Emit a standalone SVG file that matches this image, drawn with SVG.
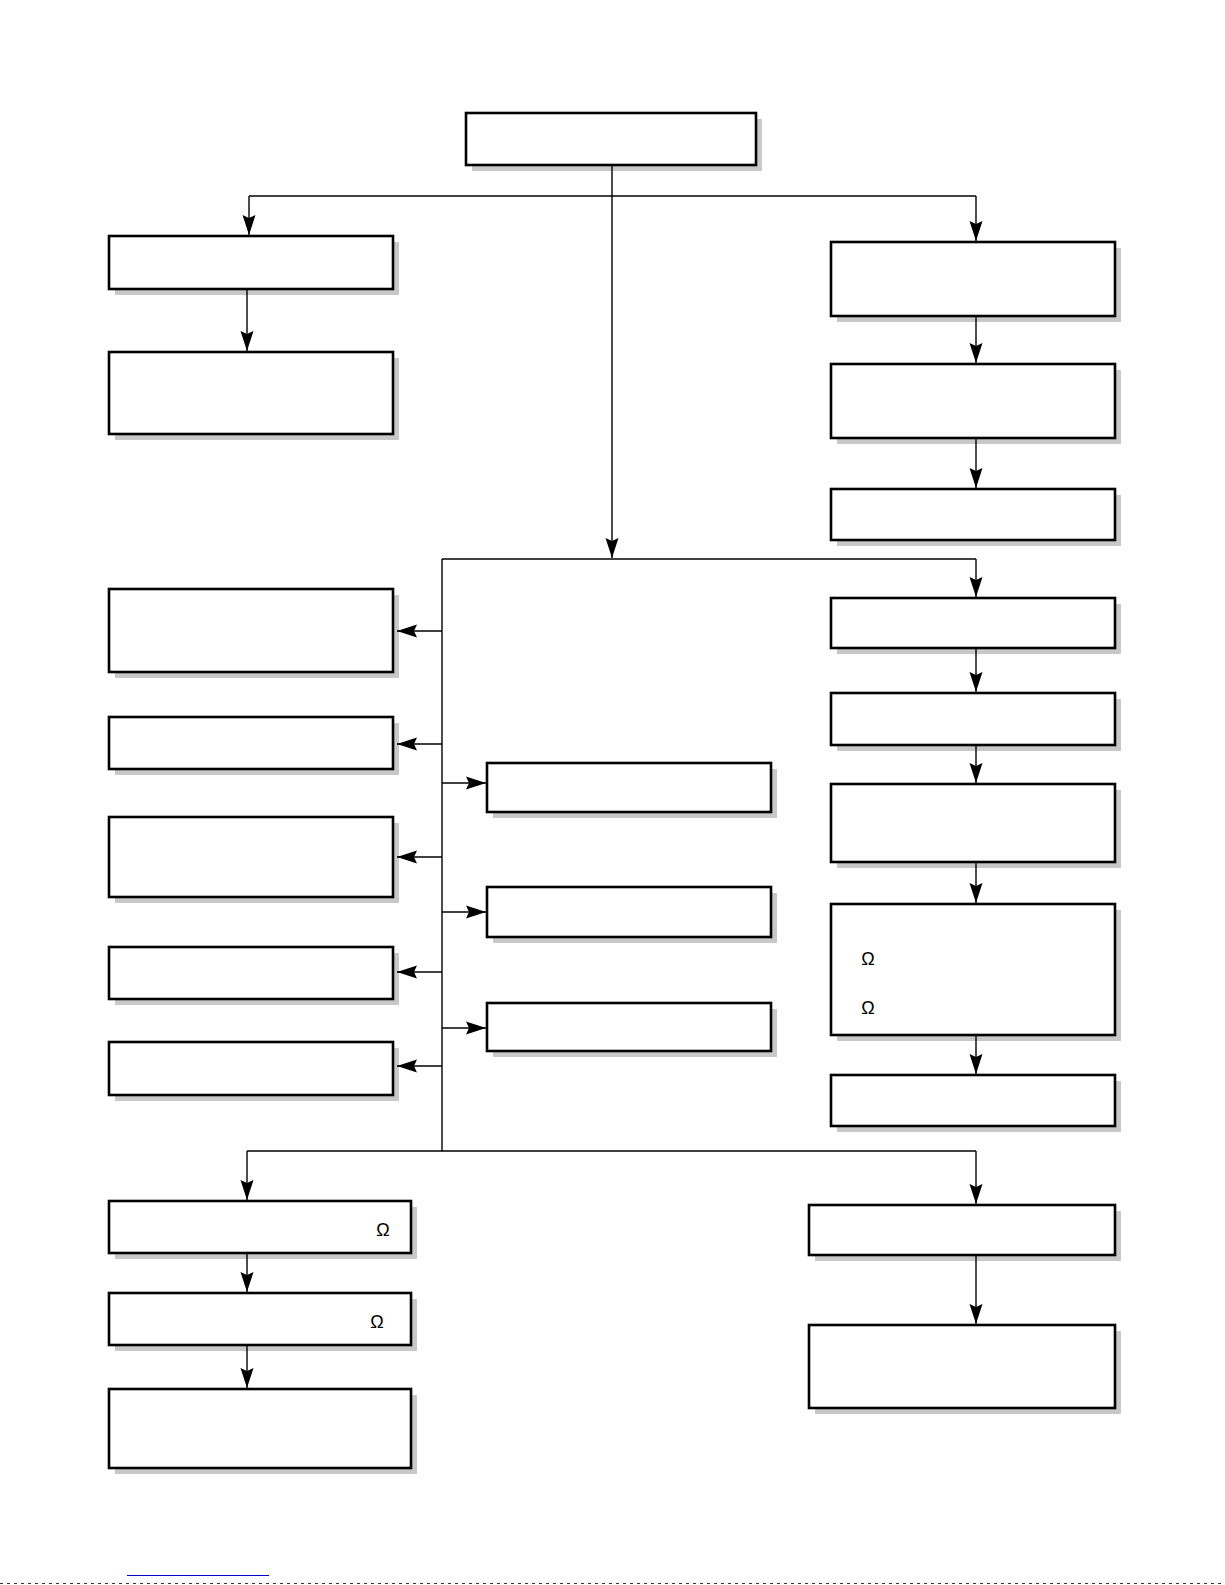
<svg xmlns="http://www.w3.org/2000/svg" width="1225" height="1585" viewBox="0 0 1225 1585">
<style>
.sh{fill:#c8c8c8;stroke:none}
.bx{fill:#fff;stroke:#000;stroke-width:2.6}
.ln{fill:none;stroke:#000;stroke-width:1.4}
.ar{marker-end:url(#ah)}
.om{font-family:"Liberation Sans",Arial,sans-serif;font-size:18px;fill:#000;text-anchor:middle;dominant-baseline:central}
</style>
<defs>
<marker id="ah" viewBox="0 0 20 14" refX="20" refY="7" markerWidth="20" markerHeight="14" markerUnits="userSpaceOnUse" orient="auto">
<path d="M0,0.5 L20,7 L0,13.5 L3,7 Z" fill="#000"/>
</marker>
</defs>
<rect width="1225" height="1585" fill="#fff"/>
<g id="top"><rect class="sh" x="472" y="119" width="290" height="52"/><rect class="bx" x="466" y="113" width="290" height="52"/></g>
<g id="L1"><rect class="sh" x="115" y="242" width="284" height="53"/><rect class="bx" x="109" y="236" width="284" height="53"/></g>
<g id="L2"><rect class="sh" x="115" y="358" width="284" height="82"/><rect class="bx" x="109" y="352" width="284" height="82"/></g>
<g id="R1"><rect class="sh" x="837" y="248" width="284" height="74"/><rect class="bx" x="831" y="242" width="284" height="74"/></g>
<g id="R2"><rect class="sh" x="837" y="370" width="284" height="74"/><rect class="bx" x="831" y="364" width="284" height="74"/></g>
<g id="R3"><rect class="sh" x="837" y="495" width="284" height="51"/><rect class="bx" x="831" y="489" width="284" height="51"/></g>
<g id="R4"><rect class="sh" x="837" y="604" width="284" height="50"/><rect class="bx" x="831" y="598" width="284" height="50"/></g>
<g id="R5"><rect class="sh" x="837" y="699" width="284" height="52"/><rect class="bx" x="831" y="693" width="284" height="52"/></g>
<g id="R6"><rect class="sh" x="837" y="790" width="284" height="78"/><rect class="bx" x="831" y="784" width="284" height="78"/></g>
<g id="R7"><rect class="sh" x="837" y="910" width="284" height="131"/><rect class="bx" x="831" y="904" width="284" height="131"/><text class="om" x="868" y="959">Ω</text><text class="om" x="868" y="1008">Ω</text></g>
<g id="R8"><rect class="sh" x="837" y="1081" width="284" height="51"/><rect class="bx" x="831" y="1075" width="284" height="51"/></g>
<g id="L3"><rect class="sh" x="115" y="595" width="284" height="83"/><rect class="bx" x="109" y="589" width="284" height="83"/></g>
<g id="L4"><rect class="sh" x="115" y="723" width="284" height="52"/><rect class="bx" x="109" y="717" width="284" height="52"/></g>
<g id="L5"><rect class="sh" x="115" y="823" width="284" height="80"/><rect class="bx" x="109" y="817" width="284" height="80"/></g>
<g id="L6"><rect class="sh" x="115" y="953" width="284" height="52"/><rect class="bx" x="109" y="947" width="284" height="52"/></g>
<g id="L7"><rect class="sh" x="115" y="1048" width="284" height="53"/><rect class="bx" x="109" y="1042" width="284" height="53"/></g>
<g id="M1"><rect class="sh" x="493" y="769" width="284" height="49"/><rect class="bx" x="487" y="763" width="284" height="49"/></g>
<g id="M2"><rect class="sh" x="493" y="893" width="284" height="50"/><rect class="bx" x="487" y="887" width="284" height="50"/></g>
<g id="M3"><rect class="sh" x="493" y="1009" width="284" height="48"/><rect class="bx" x="487" y="1003" width="284" height="48"/></g>
<g id="B1"><rect class="sh" x="115" y="1207" width="302" height="52"/><rect class="bx" x="109" y="1201" width="302" height="52"/><text class="om" x="383" y="1230">Ω</text></g>
<g id="B2"><rect class="sh" x="115" y="1299" width="302" height="52"/><rect class="bx" x="109" y="1293" width="302" height="52"/><text class="om" x="377" y="1322">Ω</text></g>
<g id="B3"><rect class="sh" x="115" y="1395" width="302" height="79"/><rect class="bx" x="109" y="1389" width="302" height="79"/></g>
<g id="BR1"><rect class="sh" x="815" y="1211" width="306" height="50"/><rect class="bx" x="809" y="1205" width="306" height="50"/></g>
<g id="BR2"><rect class="sh" x="815" y="1331" width="306" height="83"/><rect class="bx" x="809" y="1325" width="306" height="83"/></g>
<g id="connectors">
<path class="ln ar" d="M612,166 V558"/>
<path class="ln" d="M249,196 H976"/>
<path class="ln ar" d="M249,196 V235"/>
<path class="ln ar" d="M976,196 V241"/>
<path class="ln ar" d="M247,290 V351"/>
<path class="ln ar" d="M976,317 V363"/>
<path class="ln ar" d="M976,439 V488"/>
<path class="ln" d="M442,559 H976"/>
<path class="ln ar" d="M976,559 V597"/>
<path class="ln ar" d="M976,649 V692"/>
<path class="ln ar" d="M976,746 V783"/>
<path class="ln ar" d="M976,863 V903"/>
<path class="ln ar" d="M976,1036 V1074"/>
<path class="ln" d="M442,559 V1151"/>
<path class="ln ar" d="M442,631 H397"/>
<path class="ln ar" d="M442,744 H397"/>
<path class="ln ar" d="M442,857 H397"/>
<path class="ln ar" d="M442,972 H397"/>
<path class="ln ar" d="M442,1066 H397"/>
<path class="ln ar" d="M442,783 H486"/>
<path class="ln ar" d="M442,912 H486"/>
<path class="ln ar" d="M442,1028 H486"/>
<path class="ln" d="M247,1151 H976"/>
<path class="ln ar" d="M247,1151 V1200"/>
<path class="ln ar" d="M247,1254 V1292"/>
<path class="ln ar" d="M247,1346 V1388"/>
<path class="ln ar" d="M976,1151 V1204"/>
<path class="ln ar" d="M976,1256 V1324"/>
</g>
<line x1="127" y1="1575.5" x2="269" y2="1575.5" stroke="#0000cc" stroke-width="1"/>
<line x1="0" y1="1583.5" x2="1225" y2="1583.5" stroke="#333" stroke-width="1" stroke-dasharray="3,4"/>
</svg>
